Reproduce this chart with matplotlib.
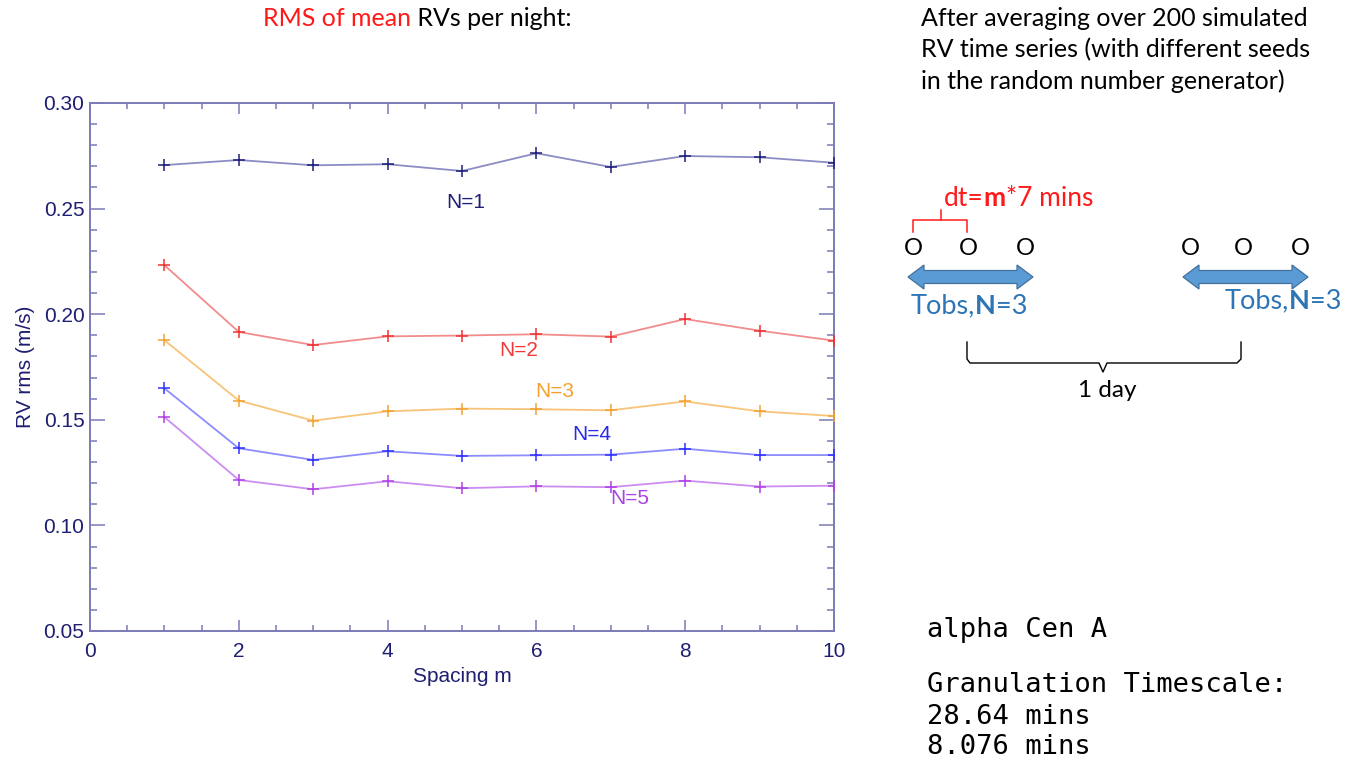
import matplotlib
matplotlib.use("Agg")
import matplotlib.pyplot as plt
from matplotlib.patches import Polygon
from matplotlib.ticker import MultipleLocator, FormatStrFormatter

# RMS of nightly mean RVs versus observation spacing m, for N exposures per night
spacing = [1, 2, 3, 4, 5, 6, 7, 8, 9, 10]
rms_n1 = [0.2706, 0.2730, 0.2705, 0.2710, 0.2678, 0.2762, 0.2697, 0.2749, 0.2743, 0.2717]
rms_n2 = [0.2232, 0.1916, 0.1854, 0.1895, 0.1899, 0.1905, 0.1894, 0.1977, 0.1922, 0.1875]
rms_n3 = [0.1877, 0.1591, 0.1496, 0.1540, 0.1553, 0.1550, 0.1545, 0.1587, 0.1540, 0.1518]
rms_n4 = [0.1649, 0.1365, 0.1310, 0.1351, 0.1329, 0.1332, 0.1335, 0.1363, 0.1333, 0.1333]
rms_n5 = [0.1513, 0.1215, 0.1171, 0.1209, 0.1176, 0.1185, 0.1181, 0.1212, 0.1184, 0.1188]
series_labels = ["N=1", "N=2", "N=3", "N=4", "N=5"]

W, H = 1364, 765
fig = plt.figure(figsize=(W / 100, H / 100), dpi=100)
fig.patch.set_facecolor("white")

axis_col = "#7b7bb8"
tick_text = "#1e1e72"
ax = fig.add_axes([90 / W, 1 - 631 / H, (834 - 90) / W, (631 - 103) / H])

styles = [
    ("#8c8cc4", "#1e1e7a", "#1e1e78", (466, 202)),
    ("#f28c8c", "#f03232", "#f03a3a", (519, 351)),
    ("#f8c47a", "#f2a232", "#f5a030", (555, 392)),
    ("#8c8cff", "#3030ff", "#2a2aee", (592, 434)),
    ("#cc8cf0", "#b040e6", "#a844e2", (630, 498)),
]
for vals, (lc, mc, tc, pos), lab in zip([rms_n1, rms_n2, rms_n3, rms_n4, rms_n5], styles, series_labels):
    ax.plot(spacing, vals, color=lc, lw=1.3, zorder=2)
    ax.plot(spacing, vals, ls="none", marker="+", ms=9, mew=1.1, color=mc, zorder=3)
    fig.text(pos[0] / W, 1 - pos[1] / H, lab, color=tc, fontsize=15,
             family="Liberation Sans", ha="center", va="center")

ax.set_xlim(0, 10)
ax.set_ylim(0.05, 0.30)
ax.xaxis.set_major_locator(MultipleLocator(2))
ax.xaxis.set_minor_locator(MultipleLocator(0.5))
ax.yaxis.set_major_locator(MultipleLocator(0.05))
ax.yaxis.set_minor_locator(MultipleLocator(0.01))
ax.yaxis.set_major_formatter(FormatStrFormatter("%.2f"))
for s in ax.spines.values():
    s.set_color(axis_col)
    s.set_linewidth(1.4)
ax.tick_params(which="both", direction="in", top=True, right=True, color=axis_col,
               labelcolor=tick_text, labelsize=15, width=1.1)
ax.tick_params(axis="x", which="major", length=8, pad=8)
ax.tick_params(axis="x", which="minor", length=4.5)
ax.tick_params(axis="y", which="major", length=11, pad=4)
ax.tick_params(axis="y", which="minor", length=5)
for lbl in ax.get_xticklabels() + ax.get_yticklabels():
    lbl.set_family("Liberation Sans")
ax.set_xlabel("Spacing m", color=tick_text, fontsize=15, family="Liberation Sans", labelpad=4)
ax.set_ylabel("RV rms (m/s)", color=tick_text, fontsize=15, family="Liberation Sans", labelpad=6)

# Overlay in pixel coordinates for the annotation panel
ov = fig.add_axes([0, 0, 1, 1], zorder=5)
ov.set_xlim(0, W)
ov.set_ylim(H, 0)
ov.axis("off")
ov.patch.set_alpha(0)

renderer = fig.canvas.get_renderer()


def rich_text(x, y, pieces, size, family="Lato", va="center"):
    """Draw consecutive text pieces of different colour/weight on one line."""
    cx = x
    for txt, col, wt in pieces:
        t = ov.text(cx, y, txt, color=col, fontsize=size, fontweight=wt,
                    family=family, ha="left", va=va)
        bb = t.get_window_extent(renderer=renderer)
        cx += bb.width


def double_arrow(x0, x1, yc, shaft=13, head=24, head_len=16):
    hs, hh = shaft / 2, head / 2
    pts = [(x0, yc), (x0 + head_len, yc - hh), (x0 + head_len, yc - hs),
           (x1 - head_len, yc - hs), (x1 - head_len, yc - hh), (x1, yc),
           (x1 - head_len, yc + hh), (x1 - head_len, yc + hs),
           (x0 + head_len, yc + hs), (x0 + head_len, yc + hh)]
    ov.add_patch(Polygon(pts, closed=True, fc="#5b9bd5", ec="#41719c", lw=0.9))


sans = "Lato"
rich_text(263, 18, [("RMS of mean", "#ff1a1a", "normal"), (" RVs per night:", "black", "normal")], 18)

for i, line in enumerate(["After averaging over 200 simulated",
                          "RV time series (with different seeds",
                          "in the random number generator)"]):
    ov.text(921, 18 + 31.5 * i, line, fontsize=18, family=sans, color="black", ha="left", va="center")

# Spacing annotation
red = "#ff1a1a"
rich_text(944, 198, [("dt=", red, "normal"), ("m", red, "bold"), ("*7 mins", red, "normal")], 19)
ov.plot([913, 913, 967, 967], [232, 220, 220, 232], color=red, lw=1.1)
ov.plot([941, 941], [220, 210], color=red, lw=1.1)

for x in [913, 968, 1025, 1190, 1243, 1300]:
    ov.text(x, 248, "O", fontsize=17, family=sans, color="black", ha="center", va="center")

for x0, x1 in [(908, 1033), (1183, 1308)]:
    double_arrow(x0, x1, 277)

blue = "#2e75b6"
rich_text(911, 306, [("Tobs,", blue, "normal"), ("N", blue, "bold"), ("=3", blue, "normal")], 19.5)
rich_text(1225, 301, [("Tobs,", blue, "normal"), ("N", blue, "bold"), ("=3", blue, "normal")], 19.5)

# One-day bracket
ov.plot([967, 967, 970, 1099, 1103, 1107, 1237, 1241, 1241],
        [342, 359, 363, 363, 372, 363, 363, 359, 342], color="black", lw=1.0)
ov.text(1107, 390, "1 day", fontsize=17.5, family=sans, color="black", ha="center", va="center")

mono = "DejaVu Sans Mono"
ov.text(927, 630, "alpha Cen A", fontsize=19.5, family=mono, color="black", ha="left", va="center")
for txt, y in [("Granulation Timescale:", 685), ("28.64 mins", 717), ("8.076 mins", 747)]:
    ov.text(927, y, txt, fontsize=19.5, family=mono, color="black", ha="left", va="center")

fig.savefig("out.png", dpi=100, facecolor="white")
